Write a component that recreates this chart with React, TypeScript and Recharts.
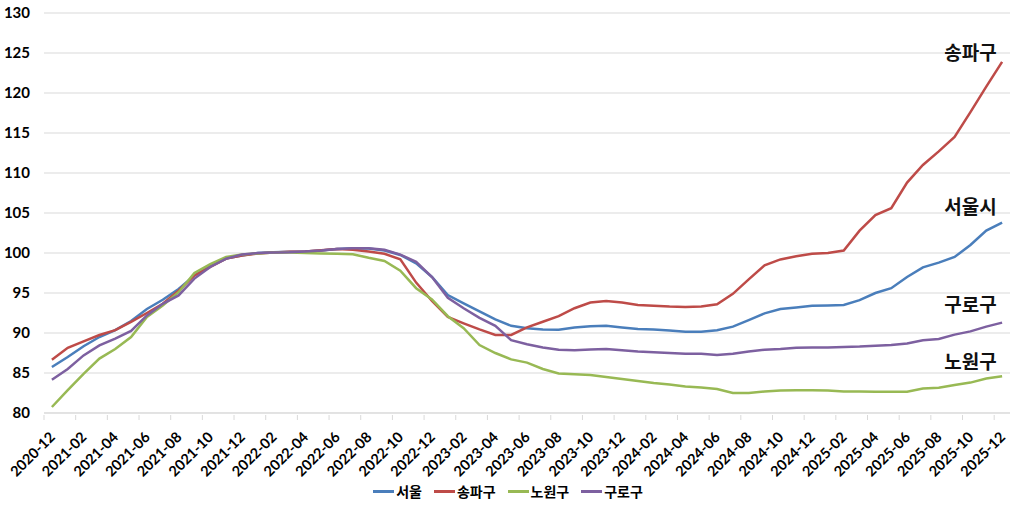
import React from 'react';
import {
  LineChart,
  Line,
  XAxis,
  YAxis,
  CartesianGrid,
  Legend,
  ReferenceDot,
} from 'recharts';

const MONTHS = [
  '2020-12',
  '2021-01', '2021-02', '2021-03', '2021-04', '2021-05', '2021-06',
  '2021-07', '2021-08', '2021-09', '2021-10', '2021-11', '2021-12',
  '2022-01', '2022-02', '2022-03', '2022-04', '2022-05', '2022-06',
  '2022-07', '2022-08', '2022-09', '2022-10', '2022-11', '2022-12',
  '2023-01', '2023-02', '2023-03', '2023-04', '2023-05', '2023-06',
  '2023-07', '2023-08', '2023-09', '2023-10', '2023-11', '2023-12',
  '2024-01', '2024-02', '2024-03', '2024-04', '2024-05', '2024-06',
  '2024-07', '2024-08', '2024-09', '2024-10', '2024-11', '2024-12',
  '2025-01', '2025-02', '2025-03', '2025-04', '2025-05', '2025-06',
  '2025-07', '2025-08', '2025-09', '2025-10', '2025-11', '2025-12',
];

const SEOUL = [
  85.75, 87.0, 88.35, 89.5, 90.35, 91.5, 93.0, 94.15, 95.5, 97.2, 98.35, 99.3, 99.7,
  100.0, 100.1, 100.15, 100.2, 100.3, 100.5, 100.6, 100.55, 100.3, 99.75, 98.7, 97.0,
  94.75, 93.7, 92.7, 91.7, 90.9, 90.6, 90.45, 90.4, 90.7, 90.85, 90.9, 90.7,
  90.5, 90.45, 90.3, 90.15, 90.15, 90.35, 90.8, 91.6, 92.45, 93.0, 93.2, 93.4,
  93.45, 93.5, 94.1, 95.0, 95.6, 97.0, 98.2, 98.8, 99.5, 101.0, 102.8, 103.8,
];

const SONGPA = [
  86.65, 88.15, 88.95, 89.75, 90.35, 91.4, 92.5, 93.65, 95.3, 97.2, 98.25, 99.3, 99.7,
  99.95, 100.05, 100.15, 100.2, 100.35, 100.5, 100.4, 100.2, 99.9, 99.2, 96.3, 94.0,
  92.0, 91.2, 90.45, 89.75, 89.75, 90.7, 91.4, 92.1, 93.1, 93.8, 94.0, 93.8,
  93.5, 93.4, 93.3, 93.25, 93.3, 93.6, 94.9, 96.7, 98.45, 99.2, 99.6, 99.9,
  100.0, 100.3, 102.8, 104.75, 105.6, 108.8, 111.0, 112.7, 114.5, 117.6, 120.8, 123.9,
];

const NOWON = [
  80.75, 82.85, 84.9, 86.8, 88.0, 89.5, 92.0, 93.45, 95.1, 97.5, 98.6, 99.5, 99.8,
  99.95, 100.05, 100.05, 100.0, 99.95, 99.9, 99.85, 99.4, 99.0, 97.8, 95.6, 94.2,
  92.1, 90.6, 88.5, 87.5, 86.7, 86.3, 85.5, 84.95, 84.85, 84.75, 84.5, 84.25,
  84.0, 83.75, 83.55, 83.3, 83.2, 83.0, 82.5, 82.5, 82.7, 82.8, 82.85, 82.85,
  82.8, 82.7, 82.7, 82.65, 82.65, 82.65, 83.05, 83.15, 83.5, 83.8, 84.3, 84.6,
];

const GURO = [
  84.15, 85.5, 87.2, 88.45, 89.3, 90.25, 92.2, 93.65, 94.7, 96.8, 98.25, 99.3, 99.8,
  100.0, 100.05, 100.1, 100.2, 100.3, 100.5, 100.6, 100.6, 100.4, 99.8, 98.9, 97.0,
  94.4, 93.1, 91.9, 90.9, 89.1, 88.6, 88.2, 87.9, 87.85, 87.95, 88.0, 87.85,
  87.7, 87.6, 87.5, 87.4, 87.4, 87.25, 87.4, 87.7, 87.9, 88.0, 88.15, 88.2,
  88.2, 88.25, 88.3, 88.4, 88.5, 88.7, 89.1, 89.25, 89.8, 90.2, 90.8, 91.3,
];

const Y_TICKS = [80, 85, 90, 95, 100, 105, 110, 115, 120, 125, 130];

const SERIES = [
  { key: 'seoul', name: '서울', color: '#4a7ebb' },
  { key: 'songpa', name: '송파구', color: '#be4b48' },
  { key: 'nowon', name: '노원구', color: '#98b954' },
  { key: 'guro', name: '구로구', color: '#7d60a0' },
];

// end-of-line labels: [month, value, text]
const END_LABELS: [string, number, string][] = [
  ['2025-10', 125, '송파구'],
  ['2025-10', 105.75, '서울시'],
  ['2025-10', 93.5, '구로구'],
  ['2025-10', 86.4, '노원구'],
];

const data = MONTHS.map((m, i) => ({
  month: m,
  seoul: SEOUL[i],
  songpa: SONGPA[i],
  nowon: NOWON[i],
  guro: GURO[i],
}));

const FONT = "Lato, 'Noto Sans CJK KR', sans-serif";
const GRID = '#d9d9d9';
const HALF_BAND = 7.9;

function MonthTick({ x, y, payload }: any) {
  const tx = x + 4;
  const ty = y + 23;
  return (
    <g>
      <line x1={x - HALF_BAND} x2={x - HALF_BAND} y1={y} y2={y + 5} stroke={GRID} strokeWidth={1} />
      <text
        x={tx}
        y={ty}
        transform={`rotate(-45 ${tx} ${ty})`}
        textAnchor="end"
        fontSize={14.5}
        fontWeight={700}
        fontFamily={FONT}
        fill="#000"
      >
        {payload.value}
      </text>
    </g>
  );
}

function LegendContent() {
  return (
    <div
      style={{
        display: 'flex',
        justifyContent: 'center',
        gap: 12,
        fontFamily: "'Noto Sans CJK KR', sans-serif",
        fontSize: 14,
        fontWeight: 700,
        color: '#000',
        lineHeight: '20px',
        paddingLeft: 6,
      }}
    >
      {SERIES.map((s) => (
        <span key={s.key} style={{ display: 'flex', alignItems: 'center' }}>
          <span style={{ display: 'inline-block', width: 21, height: 3, background: s.color, marginRight: 2 }} />
          {s.name}
        </span>
      ))}
    </div>
  );
}

export default function App() {
  return (
    <div style={{ position: 'absolute', left: 0, top: 0, width: 1025, height: 511, background: '#fff' }}>
      <LineChart width={1025} height={511} data={data} margin={{ top: 13, right: 15, left: 0, bottom: 8 }}>
        <CartesianGrid vertical={false} stroke={GRID} strokeWidth={1.2} />
        <XAxis
          dataKey="month"
          interval={1}
          height={68}
          padding={{ left: HALF_BAND, right: HALF_BAND }}
          tickLine={false}
          tickSize={0}
          axisLine={{ stroke: GRID }}
          tick={<MonthTick />}
        />
        <YAxis
          domain={[80, 130]}
          ticks={Y_TICKS}
          width={44}
          axisLine={false}
          tickLine={false}
          tickSize={0}
          tickMargin={14}
          tick={{ fontSize: 15, fontWeight: 700, fill: '#000', fontFamily: FONT }}
        />
        <Legend verticalAlign="bottom" height={22} content={<LegendContent />} />
        {SERIES.map((s) => (
          <Line
            key={s.key}
            type="linear"
            dataKey={s.key}
            name={s.name}
            stroke={s.color}
            strokeWidth={2.5}
            dot={false}
            isAnimationActive={false}
          />
        ))}
        {END_LABELS.map(([m, v, t]) => (
          <ReferenceDot
            key={t}
            x={m}
            y={v}
            r={0}
            fill="none"
            stroke="none"
            label={{
              value: t,
              position: 'center',
              fontSize: 19,
              fontWeight: 700,
              fontFamily: "'Noto Sans CJK KR', sans-serif",
              fill: '#111',
            }}
          />
        ))}
      </LineChart>
    </div>
  );
}
